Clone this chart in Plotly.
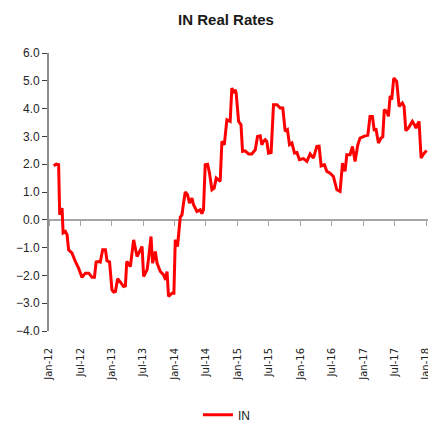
import plotly.graph_objects as go

dates = [
    "2012-01-28", "2012-02-13", "2012-02-26", "2012-03-03", "2012-03-17", "2012-03-23",
    "2012-04-05", "2012-04-15", "2012-04-24", "2012-05-14", "2012-06-02", "2012-06-21",
    "2012-07-11", "2012-07-30", "2012-08-19", "2012-09-07", "2012-09-21", "2012-10-01",
    "2012-10-16", "2012-10-25", "2012-11-08", "2012-11-24", "2012-12-03", "2012-12-18",
    "2013-01-01", "2013-01-11", "2013-01-21", "2013-02-03", "2013-02-19", "2013-03-10",
    "2013-03-20", "2013-03-28", "2013-04-18", "2013-05-07", "2013-05-27", "2013-06-25",
    "2013-07-04", "2013-07-24", "2013-08-02", "2013-08-16", "2013-08-25", "2013-09-10",
    "2013-09-20", "2013-10-09", "2013-10-28", "2013-11-09", "2013-11-17", "2013-11-26",
    "2013-12-16", "2013-12-27", "2014-01-04", "2014-01-17", "2014-02-02", "2014-02-12",
    "2014-02-21", "2014-03-03", "2014-03-16", "2014-03-28", "2014-04-11", "2014-04-20",
    "2014-05-10", "2014-05-29", "2014-06-08", "2014-06-17", "2014-06-27", "2014-07-11",
    "2014-07-22", "2014-08-05", "2014-08-18", "2014-08-30", "2014-09-22", "2014-10-02",
    "2014-10-16", "2014-10-31", "2014-11-19", "2014-11-29", "2014-12-09", "2014-12-18",
    "2014-12-24", "2015-01-07", "2015-01-21", "2015-01-30", "2015-02-14", "2015-03-06",
    "2015-03-25", "2015-04-14", "2015-04-27", "2015-05-13", "2015-05-22", "2015-06-01",
    "2015-06-11", "2015-06-20", "2015-06-30", "2015-07-15", "2015-07-29", "2015-08-18",
    "2015-09-06", "2015-09-21", "2015-10-05", "2015-10-18", "2015-10-30", "2015-11-13",
    "2015-11-28", "2015-12-12", "2015-12-27", "2016-01-19", "2016-02-08", "2016-02-27",
    "2016-03-17", "2016-04-06", "2016-04-19", "2016-05-01", "2016-05-20", "2016-06-03",
    "2016-06-22", "2016-07-11", "2016-07-31", "2016-08-19", "2016-09-02", "2016-09-17",
    "2016-09-27", "2016-10-16", "2016-10-30", "2016-11-14", "2016-11-30", "2016-12-13",
    "2017-01-11", "2017-01-27", "2017-02-09", "2017-02-23", "2017-03-05", "2017-03-16",
    "2017-03-30", "2017-04-14", "2017-04-24", "2017-05-03", "2017-05-17", "2017-05-27",
    "2017-06-06", "2017-06-15", "2017-06-27", "2017-07-14", "2017-07-28", "2017-08-16",
    "2017-08-26", "2017-09-05", "2017-09-20", "2017-10-13", "2017-10-25", "2017-11-03",
    "2017-11-11", "2017-11-21", "2017-12-03", "2017-12-16", "2018-01-04",
]

in_real_rates = [
    1.95, 2.00, 1.98, 0.18, 0.42, -0.47,
    -0.42, -0.54, -1.08, -1.20, -1.50, -1.74,
    -2.07, -1.92, -1.92, -2.07, -2.07, -1.52,
    -1.50, -1.52, -1.08, -1.08, -1.47, -1.52,
    -2.52, -2.60, -2.58, -2.12, -2.24, -2.40,
    -2.38, -1.50, -1.68, -0.72, -1.32, -0.96,
    -2.04, -1.80, -1.38, -0.60, -1.56, -1.14,
    -1.56, -1.86, -1.98, -2.16, -1.86, -2.76,
    -2.64, -2.64, -0.72, -0.96, 0.10, 0.18,
    0.60, 1.00, 0.90, 0.60, 0.78, 0.54,
    0.30, 0.36, 0.22, 0.36, 1.98, 2.00,
    1.68, 1.08, 1.14, 1.50, 1.38, 2.82,
    2.70, 3.60, 3.54, 4.74, 4.56, 4.68,
    4.56, 3.54, 3.42, 2.46, 2.48, 2.37,
    2.37, 2.52, 3.00, 3.02, 2.70, 2.82,
    2.88, 2.82, 2.40, 2.42, 4.14, 4.14,
    4.02, 4.02, 3.18, 3.24, 2.70, 2.76,
    2.40, 2.42, 2.16, 2.20, 2.10, 2.37,
    2.22, 2.64, 2.65, 1.94, 1.98, 1.74,
    1.68, 1.56, 1.08, 1.02, 2.04, 1.74,
    2.34, 2.34, 2.64, 2.10, 2.70, 2.94,
    3.02, 3.04, 3.72, 3.72, 3.24, 3.25,
    2.76, 2.94, 2.98, 3.96, 3.90, 3.72,
    4.46, 4.32, 5.10, 4.98, 4.08, 4.20,
    4.08, 3.21, 3.30, 3.54, 3.42, 3.30,
    3.42, 3.54, 2.22, 2.36, 2.49,
]

series_name = "IN"
title_text = "IN Real Rates"
x_range = ["2012-01-01", "2018-01-12"]
y_range = [-4, 6]

fig = go.Figure()
fig.add_trace(go.Scatter(
    x=dates, y=in_real_rates, mode="lines", name=series_name,
    line=dict(color="#FF0000", width=3),
    xaxis="x", yaxis="y",
))
# invisible helper trace so the zero-crossing axis renders its ticks
fig.add_trace(go.Scatter(
    x=dates, y=in_real_rates, mode="lines", showlegend=False,
    line=dict(color="rgba(0,0,0,0)", width=0), hoverinfo="skip",
    xaxis="x2", yaxis="y",
))

font_main = "Liberation Sans, Arial, sans-serif"

fig.update_layout(
    width=428, height=422,
    margin=dict(l=49, r=0, t=53, b=91, autoexpand=False),
    paper_bgcolor="white", plot_bgcolor="white",
    title=dict(text="<b>" + title_text + "</b>", x=0.467, xref="paper", xanchor="center",
               y=0.953, yref="container", yanchor="middle",
               font=dict(family=font_main, size=15, color="#1a1a1a")),
    showlegend=True,
    legend=dict(orientation="h", x=0.393, xref="paper", xanchor="left",
                y=0.017, yref="container", yanchor="middle",
                font=dict(family=font_main, size=12, color="#1a1a1a"),
                bgcolor="rgba(0,0,0,0)"),
    xaxis=dict(
        type="date", range=x_range, dtick="M6", tick0="2012-01-01", tickformat="%b-%y",
        tickangle=-90, showgrid=False, zeroline=False, showline=False, automargin=False,
        ticks="outside", ticklen=12, tickcolor="rgba(0,0,0,0)", ticklabeloverflow="allow",
        tickfont=dict(family="DejaVu Sans", size=10, color="#222222"),
    ),
    xaxis2=dict(
        type="date", range=x_range, dtick="M6", tick0="2012-01-01", matches="x",
        overlaying="x", anchor="free", position=0.4, showticklabels=False, automargin=False,
        showgrid=False, zeroline=False, showline=True, linecolor="#A6A6A6", linewidth=1.5,
        ticks="outside", ticklen=5, tickcolor="#A6A6A6", tickwidth=1, layer="below traces",
    ),
    yaxis=dict(
        range=y_range, dtick=1, tick0=0, tickformat=".1f", showgrid=False, zeroline=False,
        showline=True, linecolor="#8C8C8C", linewidth=2, automargin=False,
        ticks="outside", ticklen=5, tickcolor="#404040", tickwidth=1,
        tickfont=dict(family=font_main, size=12, color="#262626"),
    ),
)

fig.write_html("out.html", config={"displayModeBar": False},
               post_script="document.body.style.margin='0';document.body.style.overflow='hidden';")
